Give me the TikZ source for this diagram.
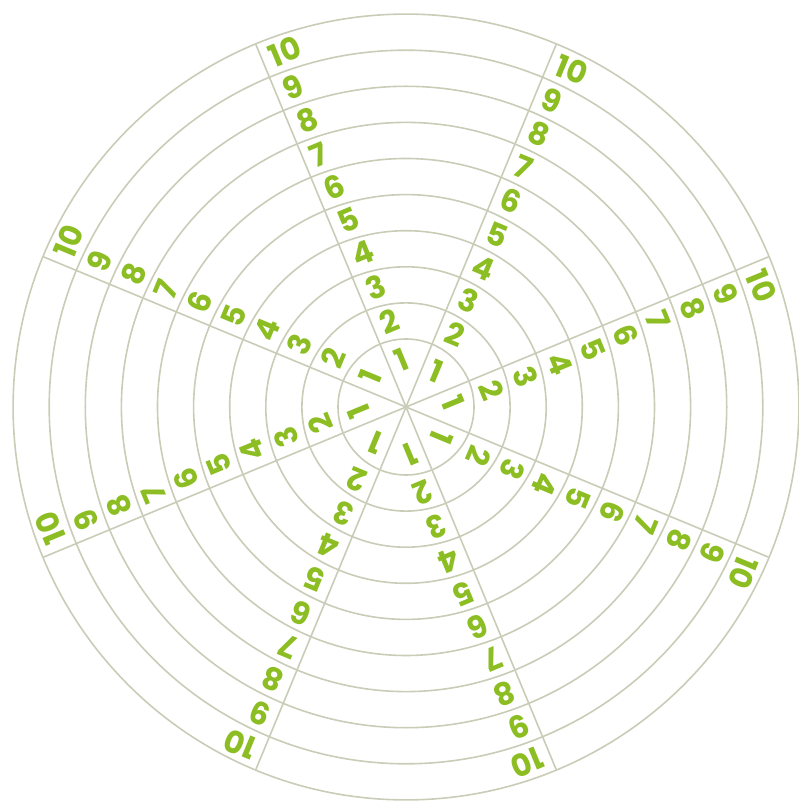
\documentclass[tikz,border=0pt]{standalone}
\usepackage{fontspec}
\setmainfont{Poppins}
\definecolor{numgreen}{HTML}{8CBD22}
\definecolor{ringgray}{HTML}{C9CCB6}
\tikzset{
  ringline/.style={draw=ringgray, line width=1.6pt},
  numlabel/.style={text=numgreen, font=\fontsize{31}{31}\selectfont\bfseries, inner sep=0pt, anchor=west}
}
\begin{document}
\begin{tikzpicture}
\useasboundingbox (-406pt,-398pt) rectangle (392pt,407pt);
\coordinate (c) at (0,0);
% rings
\foreach \k in {1,...,10} {
  \pgfmathsetmacro{\r}{68+36.1*(\k-1)}
  \draw[ringline] (c) circle (\r pt);
}
% spokes and numbers
\foreach \a [count=\i] in {22.5,67.5,...,337.5} {
  \coordinate (e\i) at (\a:393pt);
  \draw[ringline] (c) -- (e\i);
  \begin{scope}[rotate=\a-90, transform shape]
    \foreach \k in {1,...,10} {
      \pgfmathsetmacro{\d}{\k==1 ? 45 : 13.85+36.1*\k}
      \node[numlabel] (n\i-\k) at (8pt,\d pt) {\k};
    }
  \end{scope}
}
\end{tikzpicture}
\end{document}
